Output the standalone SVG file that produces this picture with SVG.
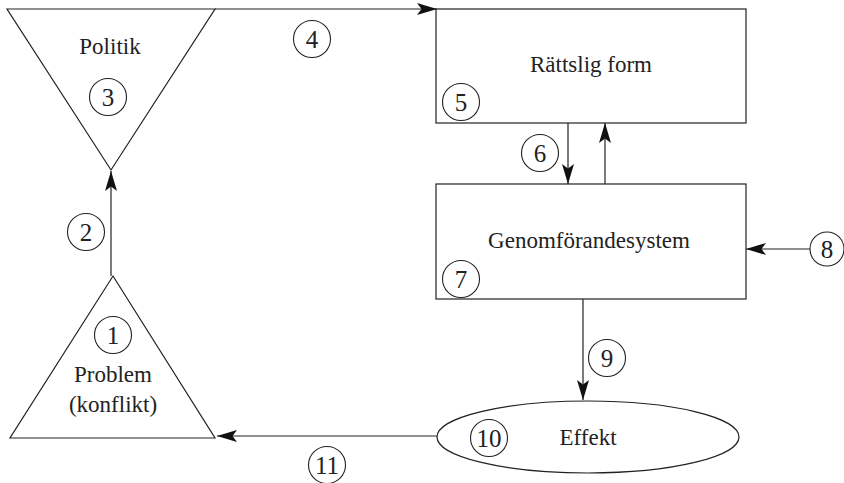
<svg xmlns="http://www.w3.org/2000/svg" width="844" height="483" viewBox="0 0 844 483">
  <style>
    .shape { fill: #fff; stroke: #222; stroke-width: 1.2; }
    .line { fill: none; stroke: #222; stroke-width: 1.2; }
    .badge { fill: #fff; stroke: #222; stroke-width: 1.1; }
    text { font-family: "Liberation Serif", "DejaVu Serif", serif; fill: #222; text-anchor: middle; }
    .label { font-size: 23px; }
    .num { font-size: 25px; }
  </style>
  <defs>
    <marker id="arrow" viewBox="0 0 20 12" refX="20" refY="6" markerWidth="20" markerHeight="12" markerUnits="userSpaceOnUse" orient="auto">
      <path d="M0,0 L20,6 L0,12 L4.5,6 z" fill="#111"/>
    </marker>
  </defs>

  <g id="connectors">
    <!-- 2: problem up to politik -->
    <line class="line" x1="111" y1="276" x2="111" y2="171" marker-end="url(#arrow)"/>
    <!-- 4: politik to rattslig form -->
    <line class="line" x1="215" y1="9" x2="437" y2="9" marker-end="url(#arrow)"/>
    <!-- 6: down to genomforande -->
    <line class="line" x1="568" y1="123" x2="568" y2="184" marker-end="url(#arrow)"/>
    <!-- feedback up -->
    <line class="line" x1="605" y1="184" x2="605" y2="123" marker-end="url(#arrow)"/>
    <!-- 8: external input -->
    <line class="line" x1="810" y1="249" x2="746" y2="249" marker-end="url(#arrow)"/>
    <!-- 9: down to effekt -->
    <line class="line" x1="583" y1="299" x2="583" y2="400" marker-end="url(#arrow)"/>
    <!-- 11: effekt back to problem -->
    <line class="line" x1="437" y1="436" x2="217" y2="436" marker-end="url(#arrow)"/>
  </g>

  <g id="politik">
    <polygon class="shape" points="7,9 215,9 111,170"/>
    <text class="label" x="110" y="54">Politik</text>
    <circle class="badge" cx="108" cy="97" r="18.5"/>
    <text class="num" x="108" y="106">3</text>
  </g>

  <g id="label-4">
    <circle class="badge" cx="312" cy="39" r="18.5"/>
    <text class="num" x="312" y="48">4</text>
  </g>

  <g id="rattslig-form">
    <rect class="shape" x="436" y="9" width="310" height="114"/>
    <text class="label" x="591" y="72">Rättslig form</text>
    <circle class="badge" cx="461" cy="102" r="18.5"/>
    <text class="num" x="461" y="111">5</text>
  </g>

  <g id="label-6">
    <circle class="badge" cx="540" cy="153" r="18.5"/>
    <text class="num" x="540" y="162">6</text>
  </g>

  <g id="genomforandesystem">
    <rect class="shape" x="436" y="184" width="310" height="115"/>
    <text class="label" x="589" y="248">Genomförandesystem</text>
    <circle class="badge" cx="461" cy="279" r="18.5"/>
    <text class="num" x="461" y="288">7</text>
  </g>

  <g id="label-8">
    <circle class="badge" cx="827" cy="249" r="17"/>
    <text class="num" x="827" y="258">8</text>
  </g>

  <g id="label-9">
    <circle class="badge" cx="607" cy="358" r="18.5"/>
    <text class="num" x="607" y="367">9</text>
  </g>

  <g id="effekt">
    <ellipse class="shape" cx="588" cy="437" rx="151" ry="36"/>
    <text class="label" x="588" y="445">Effekt</text>
    <circle class="badge" cx="489" cy="438" r="18.5"/>
    <text class="num" x="489" y="447" font-size="22">10</text>
  </g>

  <g id="label-11">
    <circle class="badge" cx="327" cy="465" r="18.5"/>
    <text class="num" x="327" y="474" font-size="22">11</text>
  </g>

  <g id="problem">
    <polygon class="shape" points="113,276 215,438 10,438"/>
    <circle class="badge" cx="113" cy="335" r="18.5"/>
    <text class="num" x="113" y="344">1</text>
    <text class="label" x="113" y="382">Problem</text>
    <text class="label" x="113" y="412">(konflikt)</text>
  </g>

  <g id="label-2">
    <circle class="badge" cx="86" cy="232" r="18.5"/>
    <text class="num" x="86" y="241">2</text>
  </g>
</svg>
